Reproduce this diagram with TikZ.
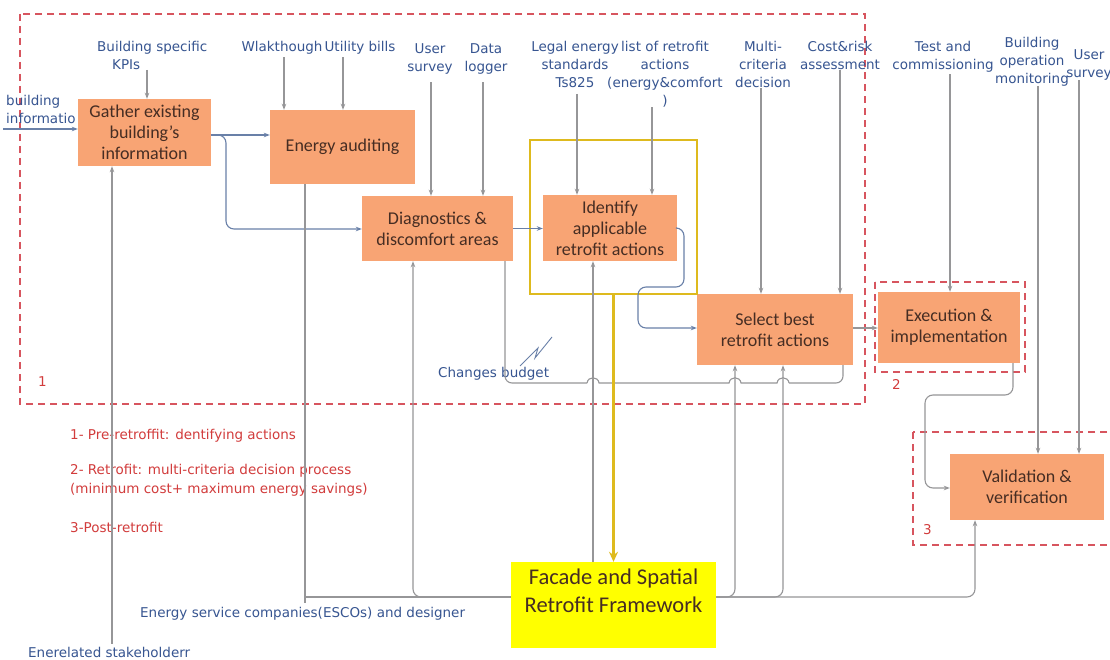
\documentclass[tikz,border=0pt]{standalone}
\usepackage{fontspec}
\setmainfont{Carlito}
\newfontfamily\lab{DejaVu Sans}
\usetikzlibrary{arrows.meta}
\definecolor{boxfill}{RGB}{248,164,116}
\definecolor{boxtext}{RGB}{70,45,35}
\definecolor{lblue}{RGB}{55,85,145}
\definecolor{cgray}{RGB}{150,150,152}
\definecolor{cblue}{RGB}{105,128,168}
\definecolor{rdash}{RGB}{215,85,95}
\definecolor{rtext}{RGB}{210,60,60}
\definecolor{gold}{RGB}{222,186,30}
\definecolor{facfill}{RGB}{255,255,0}
\begin{document}
\begin{tikzpicture}[x=1pt,y=-1pt,
  box/.style={fill=boxfill, text=boxtext, align=center, inner sep=0pt,
    font=\fontsize{18}{21}\selectfont},
  lbl/.style={font=\lab\fontsize{13.5}{18}\selectfont, text=lblue, align=center, inner sep=0pt},
  rlbl/.style={font=\lab\fontsize{13.5}{18}\selectfont, text=rtext, inner sep=0pt, anchor=west},
  gline/.style={draw=cgray, line width=1.1pt},
  garrow/.style={gline, -{Stealth[length=6pt,width=4.5pt]}},
  barrow/.style={draw=cblue, line width=1.1pt, -{Stealth[length=6pt,width=4.5pt]}},
  rdashed/.style={draw=rdash, line width=1.2pt, dash pattern=on 7pt off 5pt},
]
\clip (0,0) rectangle (1110,660);
\fill[white] (0,0) rectangle (1110,660);

% dashed phase boxes
\draw[rdashed] (20,14) rectangle (865,404);
\draw[rdashed] (875,282) rectangle (1025,372);
\draw[rdashed] (913,432) rectangle (1125,545);
\node[rlbl] (n1) at (38,382) {1};
\node[rlbl] (n2) at (892,384) {2};
\node[rlbl] (n3) at (923,530) {3};

% boxes
\node[box, minimum width=133pt, minimum height=67pt] (gather) at (144.5,132.5) {Gather existing\\building’s\\information};
\node[box, minimum width=145pt, minimum height=74pt] (ea) at (342.5,147) {Energy auditing};
\node[box, minimum width=151pt, minimum height=65pt] (diag) at (437.5,228.5) {Diagnostics \&\\discomfort areas};
\node[box, minimum width=134pt, minimum height=66pt] (idf) at (610,228) {Identify\\applicable\\retrofit actions};
\node[box, minimum width=156pt, minimum height=71pt] (sel) at (775,329.5) {Select best\\retrofit actions};
\node[box, minimum width=142pt, minimum height=71pt] (exe) at (949,327.5) {Execution \&\\implementation};
\node[box, minimum width=154pt, minimum height=66pt] (val) at (1027,487) {Validation \&\\verification};
\node[fill=facfill, text=boxtext, align=center, inner sep=0pt, minimum width=205pt, minimum height=86pt,
  font=\fontsize{22.5}{28}\selectfont] (fac) at (613.5,605) {Facade and Spatial\\Retrofit Framework\\\mbox{}};

% yellow frame
\node[draw=gold, line width=2.5pt, minimum width=167pt, minimum height=154pt, inner sep=0pt] (frame) at (613.5,217) {};

% top labels
\node[lbl, align=left, anchor=north west] (bi) at (6,95) {building\\informatio};
\node[lbl, align=left, anchor=north west] (kpi) at (97,41) {Building specific\\\hspace*{15pt}KPIs};
\node[lbl, anchor=north] (walk) at (282,41) {Wlakthough};
\node[lbl, anchor=north] (util) at (360,41) {Utility bills};
\node[lbl, anchor=north] (us1) at (430,43) {User\\survey};
\node[lbl, anchor=north] (dl) at (486,43) {Data\\logger};
\node[lbl, anchor=north] (leg) at (575,41) {Legal energy\\standards\\Ts825};
\node[lbl, anchor=north] (lst) at (665,41) {list of retrofit\\actions\\(energy\&comfort\\)};
\node[lbl, anchor=north] (mc) at (763,41) {Multi-\\criteria\\decision};
\node[lbl, anchor=north] (cr) at (840,41) {Cost\&risk\\assessment};
\node[lbl, anchor=north] (tc) at (943,41) {Test and\\commissioning};
\node[lbl, anchor=north] (bom) at (1032,37) {Building\\operation\\monitoring};
\node[lbl, anchor=north] (us2) at (1089,49) {User\\survey};

% bottom labels
\node[lbl, anchor=west] (esco) at (140,614) {Energy service companies(ESCOs) and designer};
\node[lbl, anchor=west] (stk) at (28,652) {Enerelated stakeholderr};
\node[lbl, anchor=west] (cb) at (438,374) {Changes budget};

% red legend
\node[rlbl] (r1) at (70,436) {1- Pre-retroffit: dentifying actions};
\node[rlbl] (r2) at (70,471) {2- Retrofit: multi-criteria decision process};
\node[rlbl] (r2b) at (70,490) {(minimum cost+ maximum energy savings)};
\node[rlbl] (r3) at (70,527) {3-Post-retrofit};

% inputs from top
\coordinate (bistart) at (3,129);
\draw[barrow] (bistart) -- (gather.west |- bistart);
\draw[garrow] (147,0 |- kpi.south) -- (147,0 |- gather.north);
\draw[garrow] (284,0 |- walk.south) ++(0,3) -- (284,0 |- ea.north);
\draw[garrow] (343,0 |- util.south) ++(0,3) -- (343,0 |- ea.north);
\draw[garrow] (431,0 |- us1.south) ++(0,8) -- (431,0 |- diag.north);
\draw[garrow] (483,0 |- dl.south) ++(0,8) -- (483,0 |- diag.north);
\draw[garrow] (577,0 |- leg.south) ++(0,6) -- (577,0 |- idf.north);
\draw[garrow] (652,0 |- lst.south) -- (652,0 |- idf.north);
\draw[garrow] (761,0 |- mc.south) -- (761,0 |- sel.north);
\draw[garrow] (840,0 |- cr.south) -- (840,0 |- sel.north);
\draw[garrow] (950,0 |- tc.south) ++(0,2) -- (950,0 |- exe.north);
\draw[garrow] (1038,0 |- bom.south) -- (1038,0 |- val.north);
\draw[garrow] (1079,0 |- us2.south) -- (1079,0 |- val.north);

% main flow
\draw[barrow] (gather.east |- 0,135) -- (ea.west |- 0,135);
\draw[barrow, rounded corners=8pt] (gather.east |- 0,135) -| (226,229) -- (diag.west |- 0,229);
\draw[barrow] (diag.east) -- (idf.west |- diag.east);
\draw[barrow, rounded corners=8pt] (idf.east) -- (684,228) -- (684,287) -- (638,287) -- (638,328) -- (sel.west |- 0,328);
\draw[garrow] (sel.east |- 0,328) -- (exe.west |- 0,328);
\draw[garrow, rounded corners=8pt] (1013,0 |- exe.south) -- (1013,395) -- (925,395) -- (925,488) -- (val.west |- 0,488);

% changes budget feedback with hops
\draw[gline, rounded corners=7pt] (505,0 |- diag.south) |- (587,383);
\draw[gline] (587,383) .. controls (588,376) and (598,376) .. (599,383) -- (729,383)
  .. controls (730,376) and (740,376) .. (741,383) -- (777,383)
  .. controls (778,376) and (788,376) .. (789,383);
\draw[gline, rounded corners=7pt] (789,383) -| (843,0 |- sel.south);
\draw[draw=cblue, line width=0.9pt] (520,366) -- (538,348) -- (535,358) -- (552,337);

% ESCOs / stakeholders
\draw[gline] (305,0 |- ea.south) -- (305,603);
\draw[gline] (305,597) -- (fac.west |- 0,597);
\draw[garrow, rounded corners=8pt] (470,597) -| (413,0 |- diag.south);
\draw[garrow] (593,0 |- fac.north) -- (593,0 |- idf.south);
\draw[garrow, rounded corners=8pt] (fac.east |- 0,597) -| (735,0 |- sel.south);
\draw[garrow, rounded corners=8pt] (fac.east |- 0,597) -| (783,0 |- sel.south);
\draw[garrow, rounded corners=8pt] (fac.east |- 0,597) -| (975,0 |- val.south);
\draw[garrow] (112,0 |- stk.north) ++(0,-3) -- (112,0 |- gather.south);

% yellow arrow to framework
\draw[draw=gold, line width=2.5pt, -{Stealth[length=10pt,width=9pt]}] (frame.south) -- (frame.south |- fac.north);
\end{tikzpicture}
\end{document}
